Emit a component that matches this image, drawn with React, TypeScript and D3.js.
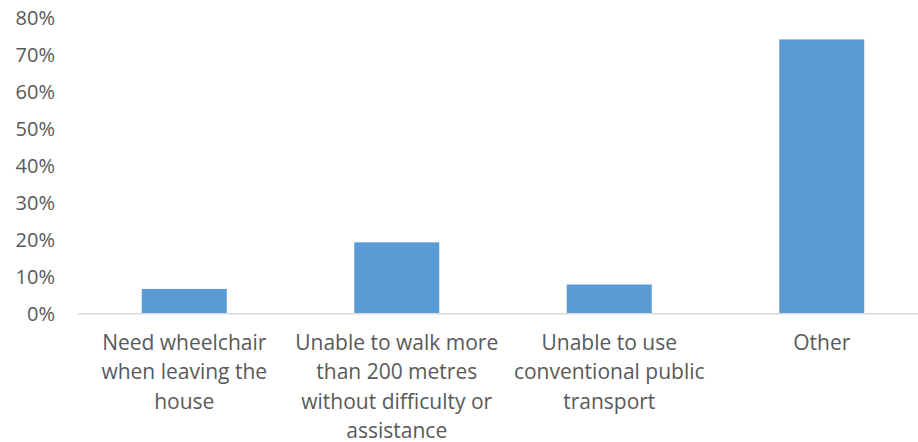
import React from "react";
import * as d3 from "d3";

const categories = [
  ["Need wheelchair", "when leaving the", "house"],
  ["Unable to walk more", "than 200 metres", "without difficulty or", "assistance"],
  ["Unable to use", "conventional public", "transport"],
  ["Other"],
];
const values = [0.067, 0.193, 0.079, 0.742];
const yTicks = [0, 0.1, 0.2, 0.3, 0.4, 0.5, 0.6, 0.7, 0.8];

export default function App() {
  const width = 918;
  const height = 442;
  const margin = { left: 78, right: -10, top: 18, bottom: 130 };

  const x = d3
    .scaleBand<number>()
    .domain(values.map((_, i) => i))
    .range([margin.left, width - margin.right])
    .paddingInner(0.6)
    .paddingOuter(0.3);

  const y = d3.scaleLinear().domain([0, 0.8]).range([height - margin.bottom + 1.7, margin.top]);
  const fmt = d3.format(".0%");
  const font = "'Open Sans', sans-serif";

  return (
    <svg
      width={width}
      height={height}
      style={{ position: "absolute", left: 0, top: 0, background: "#fff" }}
    >
      {/* y tick labels */}
      {yTicks.map((t) => (
        <text
          key={t}
          x={55}
          y={y(t)}
          dy="0.35em"
          textAnchor="end"
          fontFamily={font}
          fontSize={20}
          fill="#595959"
        >
          {fmt(t)}
        </text>
      ))}

      {/* bars */}
      {values.map((v, i) => (
        <rect
          key={i}
          x={x(i)}
          y={y(v)}
          width={x.bandwidth()}
          height={y(0) - y(v)}
          fill="#5B9BD5"
        />
      ))}

      {/* baseline */}
      <line
        x1={margin.left}
        x2={width}
        y1={y(0)}
        y2={y(0)}
        stroke="#D9D9D9"
        strokeWidth={1.5}
      />

      {/* category labels */}
      {categories.map((lines, i) => (
        <text
          key={i}
          x={(x(i) ?? 0) + x.bandwidth() / 2}
          y={343}
          textAnchor="middle"
          fontFamily={font}
          fontSize={21}
          fill="#595959"
        >
          {lines.map((l, j) => (
            <tspan key={j} x={(x(i) ?? 0) + x.bandwidth() / 2} y={342.5 + j * 29.4} dy="0.35em">
              {l}
            </tspan>
          ))}
        </text>
      ))}
    </svg>
  );
}
